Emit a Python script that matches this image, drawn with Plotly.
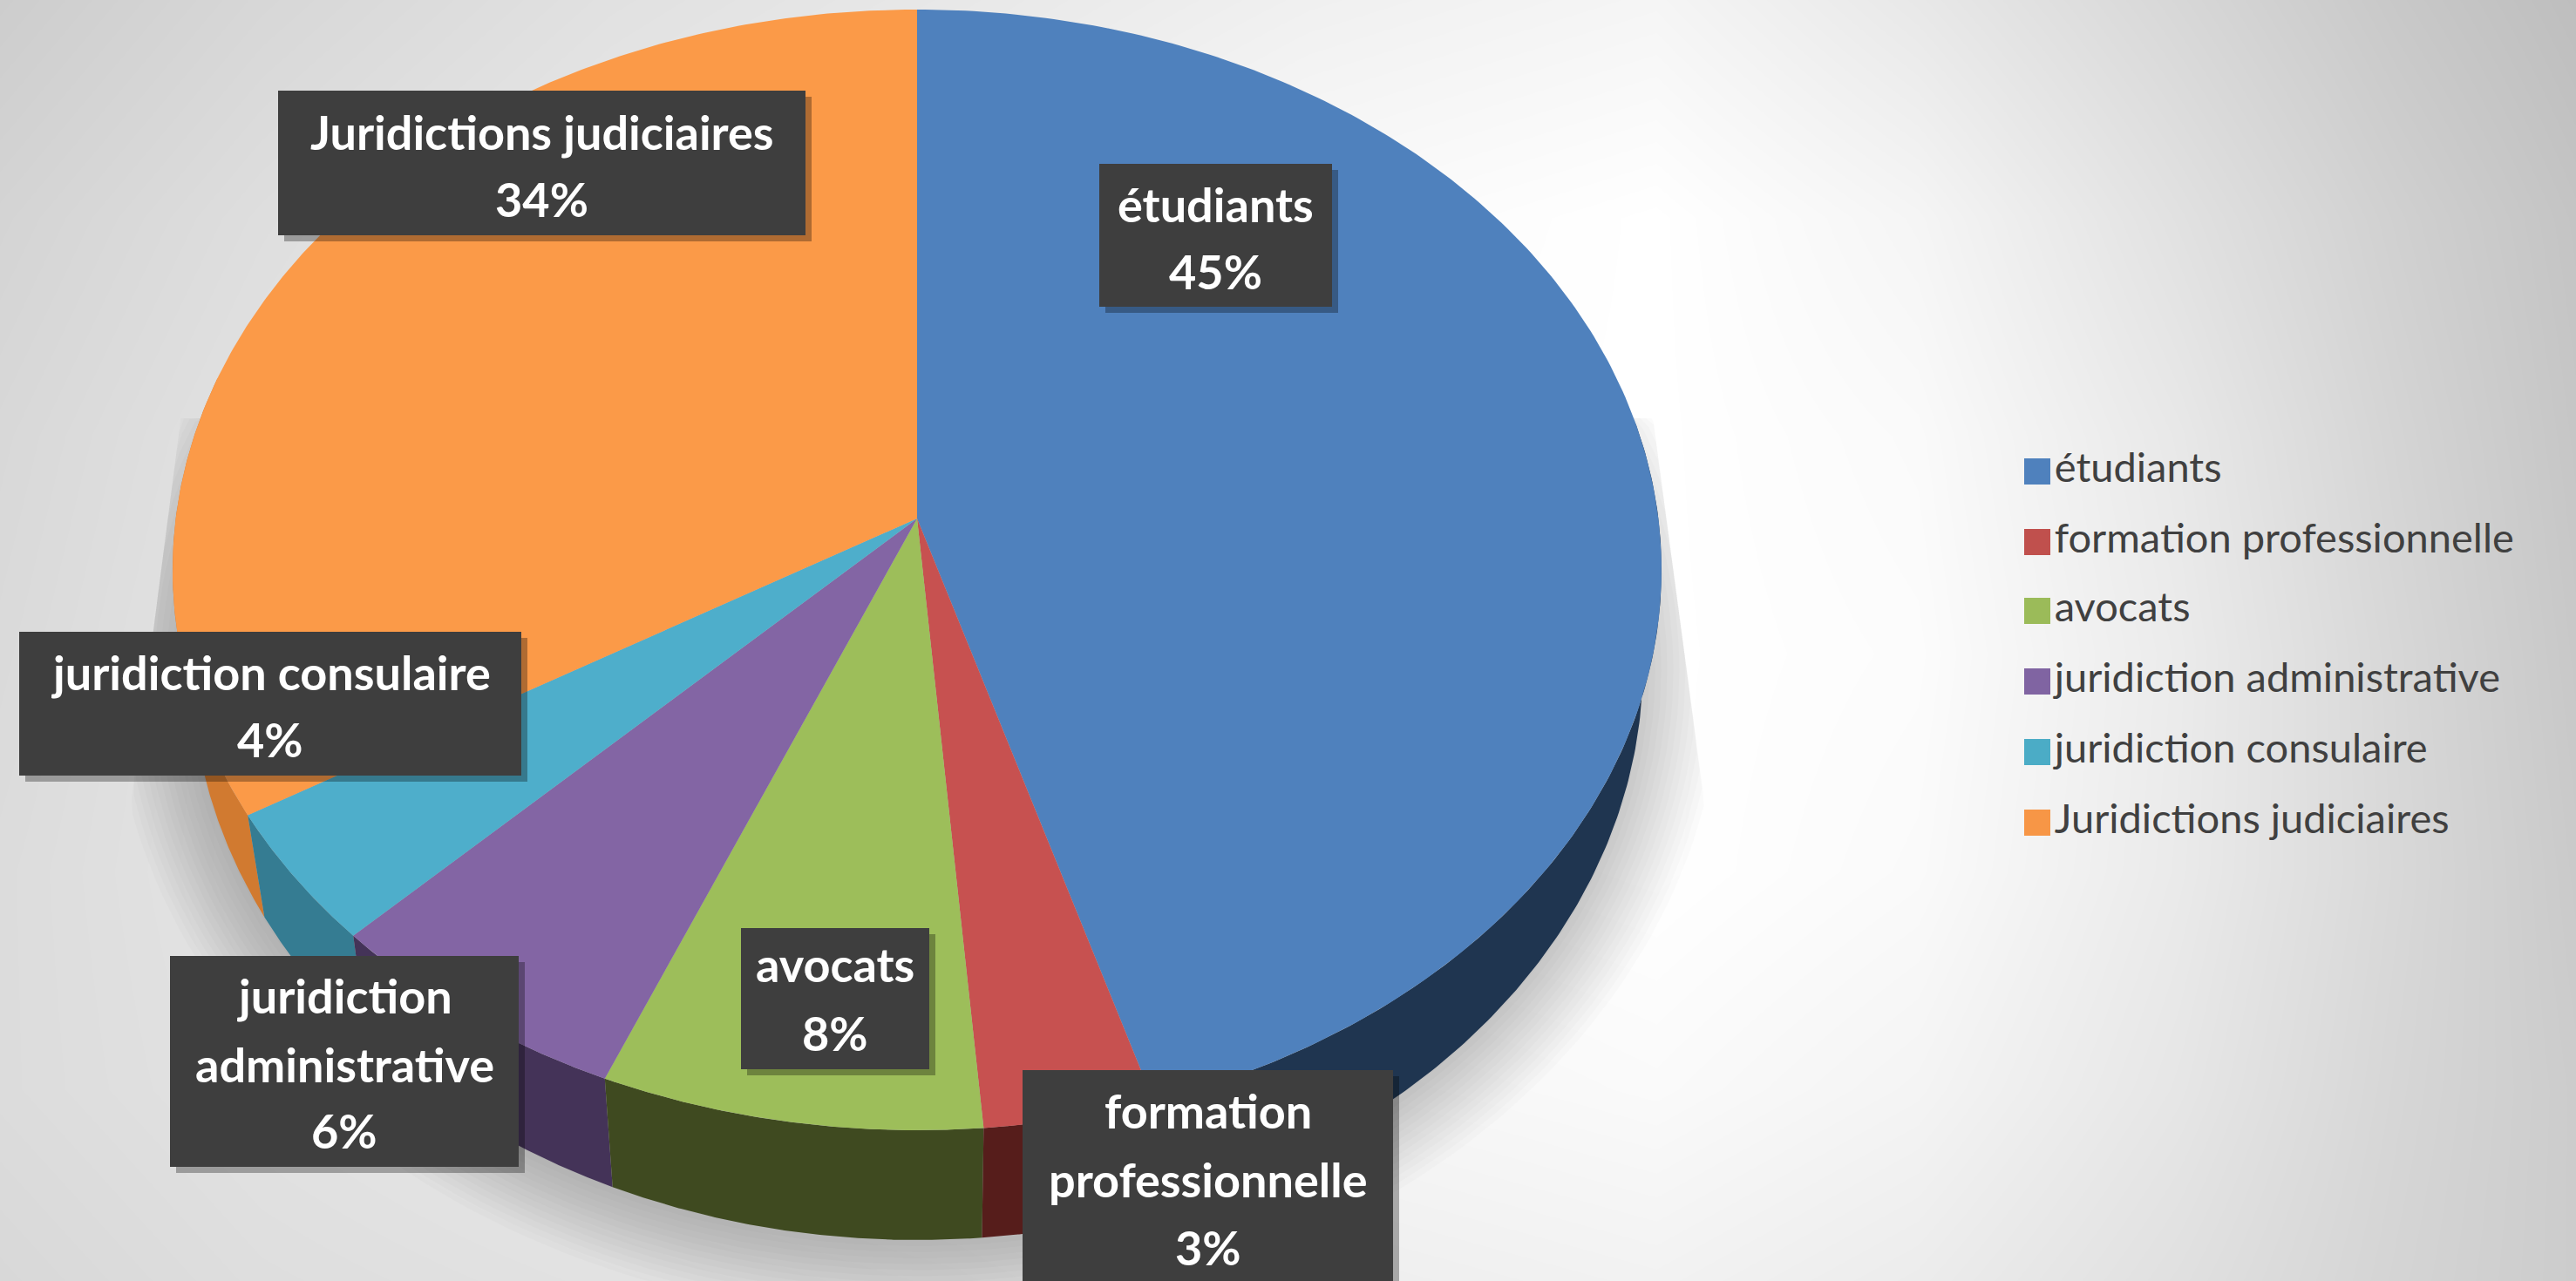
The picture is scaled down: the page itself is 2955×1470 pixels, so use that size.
import numpy as np
import plotly.graph_objects as go

# ---- data ----
categories = ["étudiants", "formation professionnelle", "avocats",
              "juridiction administrative", "juridiction consulaire", "Juridictions judiciaires"]
shares = [45.3, 3.4, 7.6, 6.3, 3.9, 33.5]
percent_labels = ["45%", "3%", "8%", "6%", "4%", "34%"]
face_colors = ["#4f81bd", "#c75150", "#9dbe5a", "#8365a4", "#4eaecb", "#fb9a48"]
wall_colors = ["#1f3550", "#561d1b", "#3f4a20", "#443358", "#357c92", "#d17a30"]
legend_colors = ["#4f81bd", "#c0504d", "#9bbb59", "#8064a2", "#4bacc6", "#f79646"]

label_lines = [["étudiants"], ["formation", "professionnelle"], ["avocats"],
               ["juridiction", "administrative"], ["juridiction consulaire"], ["Juridictions judiciaires"]]
label_boxes = [(1261, 188, 1528, 352), (1173, 1228, 1598, 1480), (850, 1065, 1066, 1227),
               (195, 1097, 595, 1339), (22, 725, 598, 890), (319, 104, 924, 270)]
label_rows = [[234, 311], [1274, 1353, 1431], [1106, 1185], [1142, 1221, 1297], [771, 848], [151, 228]]
legend_rows = [541, 622, 701, 782, 863, 944]

W, H = 2955, 1470
CX, CY = 1052, 595      # pie apex on the page
A, B, TILT = 850.4, 637.6, 0.0917


def project(phi):
    u, v = np.sin(phi), np.cos(phi)
    w = 1 + TILT * v
    return CX + A * u / w, CY - B * v / w


def lower(x, y):
    return CX + 0.975 * (x - CX), y + 110 + 16 * (y - 654) / 643


# page background, a soft grey field
bg_x = [0, 300, 700, 1100, 1500, 1900, 2200, 2500, 2750, 2955]
bg_y = [0, 250, 500, 750, 1000, 1250, 1470]
bg_z = [
    [205, 215, 225, 232, 240, 245, 232, 215, 200, 190],
    [212, 222, 232, 240, 250, 255, 245, 225, 208, 196],
    [216, 226, 236, 246, 253, 255, 250, 232, 212, 198],
    [218, 228, 238, 246, 254, 255, 252, 235, 215, 200],
    [220, 228, 236, 244, 252, 255, 250, 234, 216, 202],
    [220, 226, 232, 238, 246, 250, 244, 230, 214, 204],
    [216, 222, 226, 230, 238, 242, 236, 224, 212, 204],
]

fig = go.Figure()
fig.add_trace(go.Heatmap(x=bg_x, y=bg_y, z=bg_z, zmin=0, zmax=255, zsmooth="best",
                         colorscale=[[0, "#000000"], [1, "#ffffff"]], showscale=False,
                         hoverinfo="skip"))

# drop shadow under the pie
t = np.linspace(0, 2 * np.pi, 240)
for e in np.linspace(90, 0, 14):
    px = CX + (833 + e) * np.cos(t)
    py = 770 + (653 + e) * np.sin(t)
    py = np.maximum(py, 480)
    left = 176 - (py - 722) * 36 / 278
    right = 1900 + (py - 508) * 67 / 500
    fig.add_trace(go.Scatter(x=np.clip(px, left, right), y=py, mode="lines", line=dict(width=0),
                             fill="toself", fillcolor="rgba(0,0,0,0.016)",
                             hoverinfo="skip", showlegend=False))

# slice boundaries from the shares
edges = 2 * np.pi * np.concatenate([[0], np.cumsum(shares)]) / sum(shares)

# side walls
for i in [0, 5, 4, 3, 2, 1]:
    a0 = max(edges[i], np.radians(80))
    a1 = min(edges[i + 1], np.radians(285))
    if a1 <= a0:
        continue
    phi = np.linspace(a0, a1, 160)
    x, y = project(phi)
    xb, yb = lower(x, y)
    fig.add_trace(go.Scatter(x=np.r_[x, xb[::-1]], y=np.r_[y, yb[::-1]], mode="lines",
                             line=dict(width=0), fill="toself", fillcolor=wall_colors[i],
                             hoverinfo="skip", showlegend=False))

# top faces
for i, name in enumerate(categories):
    phi = np.linspace(edges[i], edges[i + 1], 240)
    x, y = project(phi)
    fig.add_trace(go.Scatter(x=np.r_[CX, x, CX], y=np.r_[CY, y, CY], mode="lines",
                             line=dict(width=0), fill="toself", fillcolor=face_colors[i],
                             name=name, hoverinfo="skip", showlegend=False))

# legend
fig.add_trace(go.Scatter(x=[2337] * 6, y=legend_rows, mode="markers+text",
                         marker=dict(symbol="square", size=30, color=legend_colors),
                         text=categories, textposition="middle right",
                         textfont=dict(family="Lato", size=47, color="#404040"),
                         hoverinfo="skip", showlegend=False))

shapes = [dict(type="rect", x0=2280, x1=2939, y0=502, y1=985, xref="x", yref="y", layer="below",
               fillcolor="rgba(255,255,255,0.25)", line=dict(width=0))]
annotations = []
for box, rows, lines, pct in zip(label_boxes, label_rows, label_lines, percent_labels):
    x0, y0, x1, y1 = box
    shapes.append(dict(type="rect", x0=x0 + 7, x1=x1 + 7, y0=y0 + 7, y1=y1 + 7, xref="x", yref="y",
                       fillcolor="rgba(0,0,0,0.30)", line=dict(width=0)))
    shapes.append(dict(type="rect", x0=x0, x1=x1, y0=y0, y1=y1, xref="x", yref="y",
                       fillcolor="#3e3e3e", line=dict(width=0)))
    for row, text in zip(rows, lines + [pct]):
        annotations.append(dict(x=(x0 + x1) / 2, y=row, xref="x", yref="y", text=text, showarrow=False,
                                xanchor="center", yanchor="middle",
                                font=dict(family="Lato", size=54, color="#ffffff", weight="bold")))

fig.update_layout(width=W, height=H, margin=dict(l=0, r=0, t=0, b=0), showlegend=False,
                  paper_bgcolor="#ffffff", plot_bgcolor="#ffffff",
                  xaxis=dict(range=[0, W], visible=False, fixedrange=True),
                  yaxis=dict(range=[H, 0], visible=False, fixedrange=True),
                  shapes=shapes, annotations=annotations)
fig.write_html("out.html", config=dict(displayModeBar=False),
               post_script="document.body.style.margin='0';document.body.style.overflow='hidden';")
